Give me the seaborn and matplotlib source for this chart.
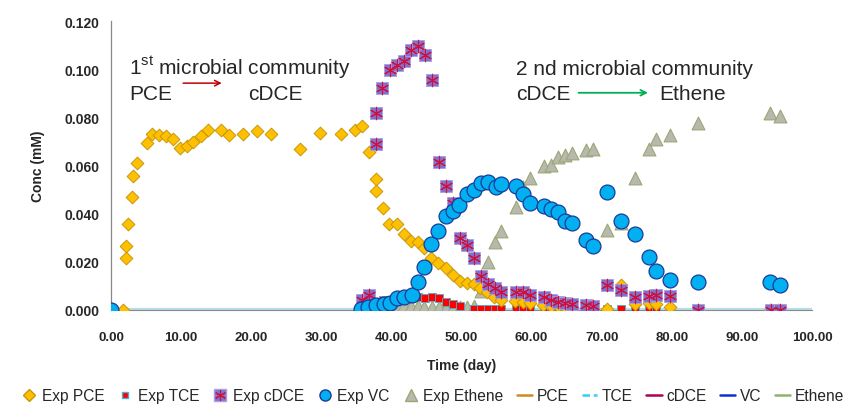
import matplotlib
matplotlib.use("Agg")
import matplotlib.pyplot as plt
from matplotlib.lines import Line2D
from matplotlib.legend_handler import HandlerTuple
import seaborn as sns

pce_t = [0.0, 1.76, 2.1, 2.14, 2.4, 3.0, 3.2, 3.75, 5.1, 5.8, 6.85, 7.8, 8.85, 9.84,
         10.9, 11.7, 12.8, 13.8, 15.7, 16.8, 18.9, 20.8, 22.9, 26.9, 29.8, 32.8, 34.8,
         35.8, 36.8, 37.8, 37.8, 38.8, 39.7, 40.75, 41.8, 42.75, 43.85, 44.65, 45.6,
         46.7, 47.8, 48.8, 49.8, 50.8, 51.8, 52.7, 53.7, 54.7, 55.7, 57.7, 58.8, 59.8,
         61.7, 62.7, 63.7, 64.8, 65.8, 67.8, 68.8, 70.8, 72.7, 74.7, 76.8, 77.8, 79.8,
         83.8, 94.0, 95.2]
pce_c = [0.0, 0.0, 0.0216, 0.0264, 0.0357, 0.047, 0.0557, 0.061, 0.0693, 0.0729, 0.0726,
         0.0723, 0.0712, 0.0671, 0.0679, 0.0698, 0.0723, 0.0748, 0.0748, 0.0726, 0.0729,
         0.0743, 0.0729, 0.0668, 0.0734, 0.0729, 0.0748, 0.0762, 0.0654, 0.0544, 0.0494,
         0.0423, 0.0356, 0.0357, 0.0314, 0.0286, 0.0283, 0.0258, 0.0215, 0.0195, 0.0173,
         0.0145, 0.012, 0.0113, 0.0108, 0.009, 0.0073, 0.0054, 0.0042, 0.0039, 0.0032,
         0.0028, 0.0021, 0.0018, 0.0015, 0.0013, 0.0012, 0.001, 0.0008, 0.0005, 0.0104,
         0.0025, 0.0029, 0.0025, 0.0011, 0.0, 0.0, 0.0]

tce_t = [0.0, 35.75, 36.7, 37.8, 38.75, 39.75, 40.75, 41.8, 42.8, 43.85, 44.8, 45.8,
         46.8, 47.8, 48.8, 49.8, 51.8, 52.8, 53.8, 54.8, 55.7, 57.8, 58.8, 59.8, 61.8,
         62.8, 63.8, 64.8, 65.8, 70.8, 72.7, 74.7, 76.7, 77.8, 79.7]
tce_c = [0.0, 0.002, 0.0025, 0.0035, 0.0043, 0.0043, 0.0048, 0.005, 0.0052, 0.0053,
         0.005, 0.0052, 0.0048, 0.0035, 0.0025, 0.0015, 0.0003, 0.0003, 0.0003, 0.0003,
         0.0003, 0.0003, 0.0003, 0.0003, 0.0003, 0.0003, 0.0003, 0.0003, 0.0003, 0.0003,
         0.0003, 0.0003, 0.0003, 0.0003, 0.0003]

cdce_t = [35.75, 36.8, 37.75, 37.75, 38.7, 39.8, 40.75, 41.8, 42.8, 43.85, 44.8, 45.85,
          46.8, 47.8, 48.8, 49.8, 50.8, 51.8, 52.8, 53.8, 54.8, 55.7, 57.8, 58.8, 59.8,
          61.8, 62.8, 63.8, 64.8, 65.8, 67.8, 68.8, 70.8, 72.7, 74.7, 76.7, 77.8, 79.7,
          83.8, 94.1, 95.4]
cdce_c = [0.0041, 0.0062, 0.0689, 0.0817, 0.092, 0.0997, 0.1017, 0.1032, 0.1079, 0.1097,
          0.1059, 0.0956, 0.0615, 0.0513, 0.0445, 0.0297, 0.027, 0.0214, 0.0142, 0.011,
          0.009, 0.0076, 0.0076, 0.0073, 0.0062, 0.0053, 0.0041, 0.0032, 0.0028, 0.0023,
          0.002, 0.0016, 0.0104, 0.0084, 0.0053, 0.0057, 0.0062, 0.006, 0.0, 0.0, 0.0]

vc_t = [0.0, 35.6, 36.7, 37.8, 38.9, 39.8, 40.75, 41.8, 42.9, 43.85, 44.7, 45.6, 46.7,
        47.8, 48.8, 49.7, 50.8, 51.8, 52.8, 53.8, 54.9, 55.7, 57.8, 58.8, 59.8, 61.8,
        62.8, 63.8, 64.8, 65.7, 67.8, 68.7, 70.8, 72.7, 74.7, 76.7, 77.8, 79.7, 83.8,
        94.0, 95.4]
vc_c = [0.0, 0.0004, 0.0011, 0.0019, 0.0025, 0.0027, 0.0048, 0.0056, 0.0064, 0.0115,
        0.018, 0.0273, 0.0326, 0.039, 0.0412, 0.0437, 0.048, 0.0497, 0.0527, 0.0532,
        0.0511, 0.0525, 0.0513, 0.048, 0.0444, 0.043, 0.0419, 0.0408, 0.037, 0.036, 0.029,
        0.0267, 0.0491, 0.037, 0.0315, 0.0219, 0.016, 0.0124, 0.0115, 0.0115, 0.0104]

eth_t = [35.7, 36.7, 37.8, 38.8, 39.8, 40.75, 41.8, 42.8, 43.85, 44.6, 45.8, 46.8, 47.8,
         48.8, 49.8, 50.8, 51.8, 52.8, 53.8, 54.8, 55.7, 57.8, 58.8, 59.8, 61.8, 62.8,
         63.7, 64.8, 65.8, 67.8, 68.7, 70.8, 72.7, 74.7, 76.7, 77.8, 79.7, 83.8, 94.0,
         95.4]
eth_c = [0.0005, 0.001, 0.0012, 0.0015, 0.0015, 0.0015, 0.002, 0.0015, 0.0015, 0.0011,
         0.0014, 0.0014, 0.0007, 0.0012, 0.0012, 0.0014, 0.0018, 0.008, 0.02, 0.0284,
         0.0329, 0.0426, 0.0512, 0.055, 0.0599, 0.0602, 0.0634, 0.0643, 0.0651, 0.0665,
         0.0668, 0.0333, 0.036, 0.055, 0.0668, 0.0712, 0.0726, 0.0776, 0.082, 0.0806]

# --- Modèle (courbes à zéro sur le graphique) ---
model_t = [0.0, 100.0]
model_pce = [0.0, 0.0]
model_tce = [0.0, 0.0]
model_cdce = [0.0, 0.0]
model_vc = [0.0, 0.0]
model_eth = [0.0, 0.0]

sns.set_style("white")
plt.rcParams['font.family'] = ['Liberation Sans', 'DejaVu Sans']
plt.rcParams['mathtext.fontset'] = 'custom'
plt.rcParams['mathtext.rm'] = 'Liberation Sans'

fig = plt.figure(figsize=(8.49, 4.06), dpi=100)
ax = fig.add_axes([0.1307, 0.234, 0.8257, 0.7118])

# --- Courbes du modèle ---
model_styles = [
    (model_pce, '#E08A1E', '-', 1.2),
    (model_cdce, '#B0005A', '-', 1.2),
    (model_vc, '#1030D0', '-', 1.2),
    (model_eth, '#8DB46E', '-', 1.2),
    (model_tce, '#B7DEE6', '-', 3.0),
]
for vals, col, ls, lw in model_styles:
    sns.lineplot(x=model_t, y=vals, ax=ax, color=col, linestyle=ls, linewidth=lw,
                 zorder=2, legend=False)

# --- Points expérimentaux ---
sns.scatterplot(x=eth_t, y=eth_c, ax=ax, marker='^', s=85, color='#B8B9AE',
                edgecolor='#9AA872', linewidth=0.8, zorder=3)
sns.scatterplot(x=tce_t, y=tce_c, ax=ax, marker='s', s=36, color='#FF0000',
                edgecolor='#4AAFD0', linewidth=0.6, zorder=4)
sns.scatterplot(x=pce_t, y=pce_c, ax=ax, marker='D', s=42, color='#FFC000',
                edgecolor='#C8960A', linewidth=0.7, zorder=5)
sns.scatterplot(x=cdce_t, y=cdce_c, ax=ax, marker='s', s=80, color='#8070D0',
                edgecolor='#A9A0E0', linewidth=0.6, zorder=6)
sns.scatterplot(x=cdce_t, y=cdce_c, ax=ax, marker=(6, 2, 0), s=80, color='#D0103A',
                linewidth=0.8, zorder=7)
sns.scatterplot(x=vc_t, y=vc_c, ax=ax, marker='o', s=115, color='#00B0F0',
                edgecolor='#1A3A9A', linewidth=0.9, zorder=8)

# --- Axes ---
ax.set_xlim(0, 100)
ax.set_ylim(0, 0.12)
ax.set_xticks(range(0, 101, 10))
ax.set_xticklabels([f"{v:.2f}" for v in range(0, 101, 10)], fontsize=9.5, fontweight='bold')
yt = [0.0, 0.02, 0.04, 0.06, 0.08, 0.10, 0.12]
ax.set_yticks(yt)
ax.set_yticklabels([f"{v:.3f}" for v in yt], fontsize=10, fontweight='bold')
ax.tick_params(axis='both', direction='out', length=4, width=0.8, color='#888888', pad=4)
ax.tick_params(axis='x', pad=11)
for side in ['top', 'right']:
    ax.spines[side].set_visible(False)
ax.spines['left'].set_color('#888888')
ax.spines['bottom'].set_color('#888888')
ax.spines['left'].set_linewidth(0.9)
ax.set_xlabel('Time (day)', fontsize=10, fontweight='bold', labelpad=11)
ax.set_ylabel('Conc (mM)', fontsize=10, fontweight='bold', labelpad=14)

# --- Annotations ---
ax.text(2.57, 0.0979, r"1$^{\mathrm{st}}$ microbial community", fontsize=15, va='baseline')
ax.text(2.57, 0.0876, "PCE", fontsize=15, va='baseline')
ax.text(19.5, 0.0876, "cDCE", fontsize=15, va='baseline')
ax.annotate("", xy=(16.2, 0.0942), xytext=(9.9, 0.0942),
            arrowprops=dict(arrowstyle='->', color='#C00000', lw=1.1))
ax.text(57.8, 0.0979, "2 nd microbial community", fontsize=15, va='baseline')
ax.text(57.8, 0.0876, "cDCE", fontsize=15, va='baseline')
ax.text(78.2, 0.0876, "Ethene", fontsize=15, va='baseline')
ax.annotate("", xy=(77.0, 0.0902), xytext=(66.3, 0.0902),
            arrowprops=dict(arrowstyle='->', color='#00B050', lw=1.3))

# --- Légende ---
h_pce = Line2D([], [], marker='D', ls='none', ms=6, mfc='#FFC000', mec='#C8960A')
h_tce = Line2D([], [], marker='s', ls='none', ms=5, mfc='#FF0000', mec='#4AAFD0')
h_cdce = (Line2D([], [], marker='s', ls='none', ms=8, mfc='#8070D0', mec='#A9A0E0'),
          Line2D([], [], marker=(6, 2, 0), ls='none', ms=8, color='#D0103A', mew=0.8))
h_vc = Line2D([], [], marker='o', ls='none', ms=8, mfc='#00B0F0', mec='#1A3A9A')
h_eth = Line2D([], [], marker='^', ls='none', ms=8, mfc='#B8B9AE', mec='#9AA872')
l_pce = Line2D([], [], color='#D08A1E', lw=1.8)
l_tce = Line2D([], [], color='#33CCFF', lw=1.8, ls=(0, (3, 1.5)))
l_cdce = Line2D([], [], color='#B0005A', lw=1.8)
l_vc = Line2D([], [], color='#1030D0', lw=1.8)
l_eth = Line2D([], [], color='#8DB46E', lw=1.8)
handles = [h_pce, h_tce, h_cdce, h_vc, h_eth, l_pce, l_tce, l_cdce, l_vc, l_eth]
labels = ['Exp PCE', 'Exp TCE', 'Exp cDCE', 'Exp VC', 'Exp Ethene',
          'PCE', 'TCE', 'cDCE', 'VC', 'Ethene']
fig.legend(handles, labels, loc='center', bbox_to_anchor=(0.51, 0.023), ncol=10,
           frameon=False, fontsize=11.2, handlelength=1.0, handletextpad=0.3,
           columnspacing=0.85, borderaxespad=0, borderpad=0.1,
           handler_map={tuple: HandlerTuple(ndivide=1, pad=0)})

fig.savefig("out.png", dpi=100)
